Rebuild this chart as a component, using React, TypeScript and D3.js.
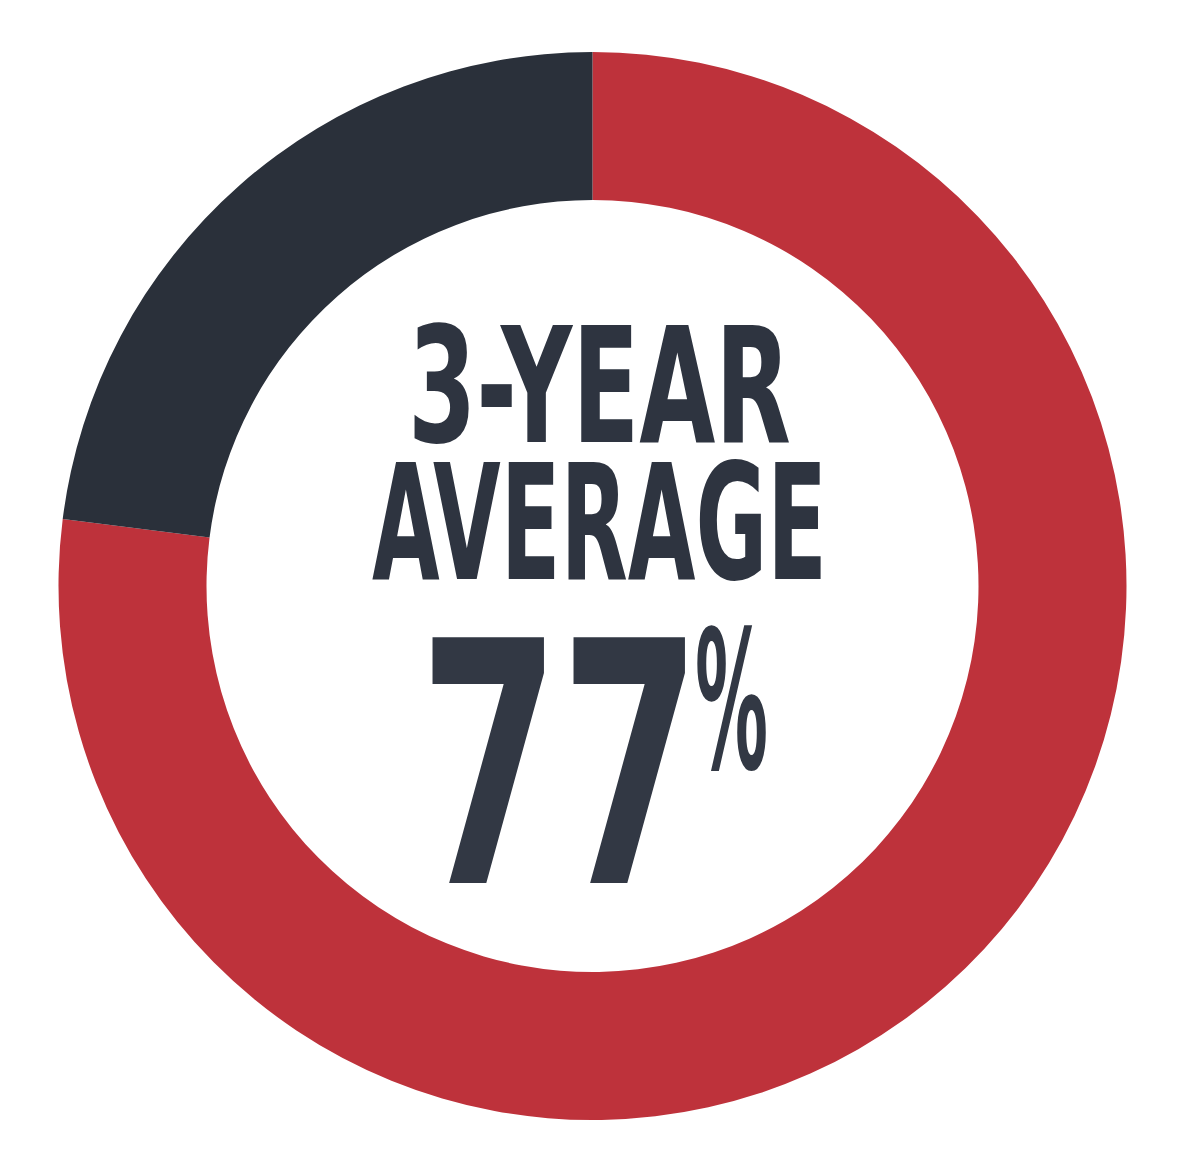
import React from "react";
import * as d3 from "d3";

const categories = ["Achieved", "Remaining"];
const values = [77, 23];
const colors = ["#BE323B", "#2A303A"];
const titleLines = ["3-YEAR", "AVERAGE"];
const valueLabel = "77";
const unitLabel = "%";

export default function App() {
  const W = 1189, H = 1173;
  const cx = 592.5, cy = 586;
  const outerR = 534, innerR = 386;
  const pie = d3.pie<number>().sort(null).value((d) => d)(values);
  const arc = d3.arc<d3.PieArcDatum<number>>().innerRadius(innerR).outerRadius(outerR);
  const font = "'DejaVu Sans Condensed', 'DejaVu Sans', sans-serif";
  return (
    <svg width={W} height={H} style={{ position: "absolute", left: 0, top: 0 }}>
      <rect width={W} height={H} fill="#fff" />
      <g transform={`translate(${cx},${cy})`}>
        {pie.map((p, i) => (
          <path key={categories[i]} d={arc(p) || ""} fill={colors[i]} />
        ))}
      </g>
      <text x={408} y={442} fontFamily={font} fontWeight="bold" fontSize={160} fill="#2E3440"
        textLength={383} lengthAdjust="spacingAndGlyphs">{titleLines[0]}</text>
      <text x={372} y={579} fontFamily={font} fontWeight="bold" fontSize={160} fill="#2E3440"
        textLength={455} lengthAdjust="spacingAndGlyphs">{titleLines[1]}</text>
      <text x={419} y={883} fontFamily={font} fontWeight="bold" fontSize={337} fill="#323844"
        textLength={282} lengthAdjust="spacingAndGlyphs">{valueLabel}</text>
      <text x={695} y={768} fontFamily={font} fontWeight="bold" fontSize={193} fill="#323844"
        textLength={73} lengthAdjust="spacingAndGlyphs">{unitLabel}</text>
    </svg>
  );
}
